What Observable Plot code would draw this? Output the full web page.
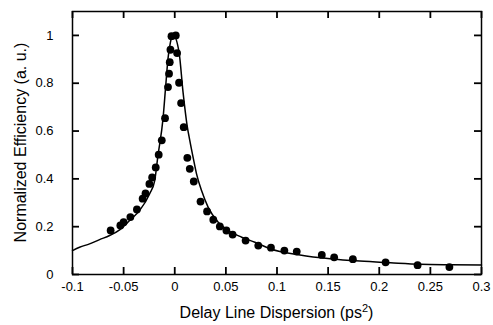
<!DOCTYPE html>
<html>
<head>
<meta charset="utf-8">
<script src="https://cdn.jsdelivr.net/npm/d3@7"></script>
<script src="https://cdn.jsdelivr.net/npm/@observablehq/plot@0.6"></script>
<style>
  html, body { margin: 0; padding: 0; background: #fff; }
  #chart svg { display: block; }
</style>
</head>
<body>
<div id="chart"></div>
<script>
// Measured data points
const measX = [-0.0627, -0.0532, -0.0500, -0.0434, -0.0370, -0.0314, -0.0286, -0.0248, -0.0221, -0.0186,
  -0.0157, -0.0127, -0.0095, -0.0066, -0.0056, -0.0049, -0.0042, -0.0032, 0.0010, 0.0023,
  0.0042, 0.0062, 0.0088, 0.0123, 0.0147, 0.0186, 0.0252, 0.0316, 0.0377, 0.0441,
  0.0505, 0.0566, 0.0693, 0.0817, 0.0941, 0.1072, 0.1193, 0.1438, 0.1559, 0.1742,
  0.2062, 0.2375, 0.2686];
const measY = [0.184, 0.205, 0.219, 0.240, 0.272, 0.317, 0.339, 0.379, 0.406, 0.448,
  0.501, 0.561, 0.654, 0.784, 0.840, 0.888, 0.940, 0.997, 1.000, 0.926,
  0.802, 0.717, 0.616, 0.488, 0.442, 0.389, 0.305, 0.264, 0.229, 0.201,
  0.184, 0.167, 0.142, 0.121, 0.112, 0.100, 0.096, 0.082, 0.072, 0.064,
  0.051, 0.039, 0.031];

// Fitted curve
const fitX = [-0.100, -0.0931, -0.0833, -0.0735, -0.0637, -0.0539, -0.0441, -0.0343, -0.0245, -0.0196,
  -0.0164, -0.0115, -0.0088, -0.0066, -0.0042, -0.0015, 0.0042, 0.0081, 0.0121, 0.0147,
  0.0179, 0.0213, 0.0262, 0.0326, 0.0425, 0.0523, 0.0654, 0.0784, 0.0931, 0.1225,
  0.152, 0.181, 0.211, 0.240, 0.270, 0.300];
const fitY = [0.100, 0.114, 0.128, 0.146, 0.163, 0.187, 0.226, 0.268, 0.338, 0.393,
  0.498, 0.651, 0.791, 0.903, 0.972, 1.002, 0.930, 0.763, 0.623, 0.561,
  0.491, 0.421, 0.351, 0.282, 0.219, 0.184, 0.156, 0.135, 0.108, 0.082,
  0.066, 0.056, 0.049, 0.043, 0.041, 0.040];

const xTicks = [-0.1, -0.05, 0, 0.05, 0.1, 0.15, 0.2, 0.25, 0.3];
const xTickLabels = ["-0.1", "-0.05", "0", "0.05", "0.1", "0.15", "0.2", "0.25", "0.3"];
const yTicks = [0, 0.2, 0.4, 0.6, 0.8, 1];
const yTickLabels = ["0", "0.2", "0.4", "0.6", "0.8", "1"];

const xTitle = "Delay Line Dispersion (ps";
const xTitleSup = "2";
const yTitle = "Normalized Efficiency (a. u.)";

(function () {
  const meas = measX.map((x, i) => ({x, y: measY[i]}));
  const fit = fitX.map((x, i) => ({x, y: fitY[i]}));

  const fmtX = d => xTickLabels[xTicks.indexOf(d)];
  const fmtY = d => yTickLabels[yTicks.indexOf(d)];

  const W = 493, H = 325;
  const mL = 72, mR = 12, mT = 11, mB = 51;
  const X0 = -0.1, X1 = 0.3, Y0 = 0, Y1 = 1.1;
  const innerW = W - mL - mR, innerH = H - mT - mB;
  const TK = 7; // inward tick length in px
  const tkY = TK * (Y1 - Y0) / innerH; // same length in y units
  const tkX = TK * (X1 - X0) / innerW; // same length in x units

  const plot = Plot.plot({
    width: W,
    height: H,
    marginLeft: mL,
    marginRight: mR,
    marginTop: mT,
    marginBottom: mB,
    style: {fontFamily: "'Liberation Sans', Arial, Helvetica, sans-serif", fontSize: "13px", color: "#000", background: "#fff"},
    x: {domain: [X0, X1]},
    y: {domain: [Y0, Y1]},
    marks: [
      Plot.axisX({anchor: "bottom", ticks: xTicks, tickFormat: fmtX, tickSize: 0, tickPadding: 7, label: null, fontSize: 13}),
      Plot.axisY({anchor: "left", ticks: yTicks, tickFormat: fmtY, tickSize: 0, tickPadding: 19, label: null, fontSize: 13}),
      // inward ticks on all four sides
      Plot.ruleX(xTicks, {x: d => d, y1: Y0, y2: Y0 + tkY, stroke: "#000", strokeWidth: 1.8}),
      Plot.ruleX(xTicks, {x: d => d, y1: Y1 - tkY, y2: Y1, stroke: "#000", strokeWidth: 1.8}),
      Plot.ruleY(yTicks, {y: d => d, x1: X0, x2: X0 + tkX, stroke: "#000", strokeWidth: 1.8}),
      Plot.ruleY(yTicks, {y: d => d, x1: X1 - tkX, x2: X1, stroke: "#000", strokeWidth: 1.8}),
      Plot.line(fit, {x: "x", y: "y", stroke: "#000", strokeWidth: 1.5, curve: "monotone-x"}),
      Plot.dot(meas, {x: "x", y: "y", r: 3.9, fill: "#000", stroke: "none"}),
      Plot.frame({stroke: "#000", strokeWidth: 1.5})
    ]
  });

  document.getElementById("chart").appendChild(plot);

  const svg = d3.select(plot);
  const xt = svg.append("text")
    .attr("x", (mL + (W - mR)) / 2)
    .attr("y", 318)
    .attr("text-anchor", "middle")
    .attr("font-size", 16)
    .attr("fill", "#000");
  xt.append("tspan").text(xTitle);
  xt.append("tspan").attr("dy", -6).attr("font-size", 11).text(xTitleSup);
  xt.append("tspan").attr("dy", 6).text(")");

  svg.append("text")
    .attr("transform", `translate(26, ${(mT + (H - mB)) / 2}) rotate(-90)`)
    .attr("text-anchor", "middle")
    .attr("font-size", 16)
    .attr("fill", "#000")
    .text(yTitle);
})();
</script>
</body>
</html>
